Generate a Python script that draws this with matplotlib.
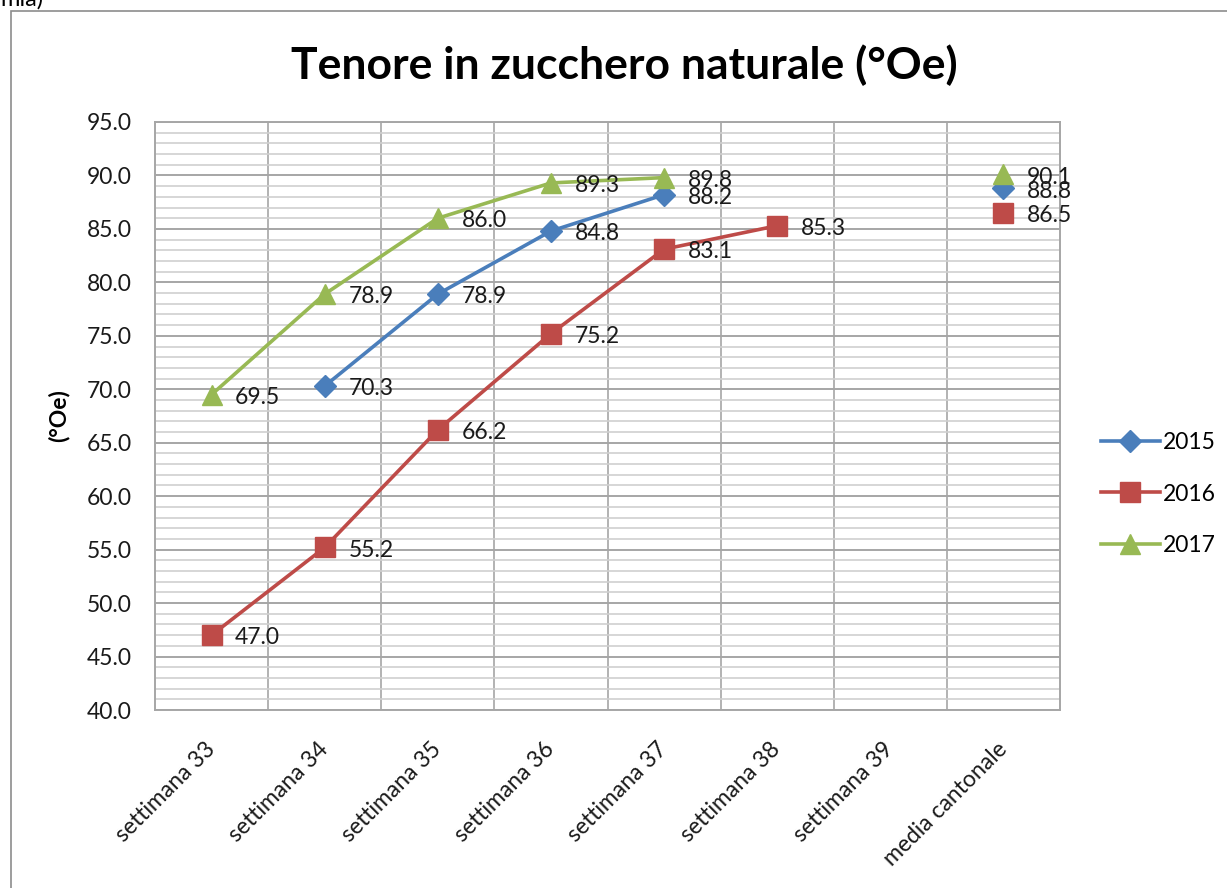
import numpy as np
import matplotlib.pyplot as plt
from matplotlib.patches import Rectangle

plt.rcParams['font.family'] = ['Lato', 'DejaVu Sans']

categories = ['settimana 33', 'settimana 34', 'settimana 35', 'settimana 36',
              'settimana 37', 'settimana 38', 'settimana 39', 'media cantonale']
years = ['2015', '2016', '2017']
nan = np.nan
values_2015 = [nan, 70.3, 78.9, 84.8, 88.2, nan, nan, 88.8]
values_2016 = [47.0, 55.2, 66.2, 75.2, 83.1, 85.3, nan, 86.5]
values_2017 = [69.5, 78.9, 86.0, 89.3, 89.8, nan, nan, 90.1]

series = [values_2015, values_2016, values_2017]
colors = ['#4A7EBB', '#BE4B48', '#98B954']
markers = ['D', 's', '^']
msizes = [11, 14, 15]

fs = 16.5

fig = plt.figure(figsize=(12.27, 8.88), dpi=100)
ax = fig.add_axes([155 / 1227, 1 - 710 / 888, (1060 - 155) / 1227, (710 - 122) / 888])

x = np.arange(len(categories))
for vals, c, m, ms, yr in zip(series, colors, markers, msizes, years):
    ax.plot(x, vals, color=c, lw=2.6, marker=m, markersize=ms, label=yr, zorder=3)
    for xi, v in zip(x, vals):
        if not np.isnan(v):
            ax.annotate(f'{v:.1f}', (xi, v), xytext=(17, -2), textcoords='offset points',
                        ha='left', va='center', fontsize=fs, color='#1a1a1a', zorder=4)

ax.set_xlim(-0.5, len(categories) - 0.5)
ax.set_ylim(40, 95)
ax.set_yticks(np.arange(40, 96, 5))
ax.set_yticklabels([f'{v:.1f}' for v in np.arange(40, 96, 5)])
ax.set_yticks(np.arange(40, 96, 1), minor=True)
ax.set_xticks(x)
ax.set_xticks(np.arange(0.5, len(categories) - 1, 1), minor=True)
ax.set_xticklabels(categories, rotation=45, ha='right', va='center',
                   rotation_mode='anchor')
ax.tick_params(axis='both', which='both', length=0, labelsize=fs, colors='#1a1a1a')
ax.tick_params(axis='x', pad=26)
ax.tick_params(axis='y', pad=17)

ax.grid(which='major', axis='y', color='#a6a6a6', lw=1.4)
ax.grid(which='minor', axis='y', color='#cfcfcf', lw=1.2)
ax.grid(which='minor', axis='x', color='#a6a6a6', lw=1.2)
ax.set_axisbelow(True)
for s in ax.spines.values():
    s.set_color('#a6a6a6')
    s.set_linewidth(1.4)

ax.set_ylabel('(°Oe)', fontsize=fs, fontweight='bold', labelpad=12)

fig.text(0.509, 1 - 65 / 888, 'Tenore in zucchero naturale (°Oe)', ha='center', va='center',
         fontsize=32, fontweight='bold')
fig.text(0.0, 1 - 6 / 888, 'mia)', ha='left', va='baseline', fontsize=17)

fig.legend(loc='center left', bbox_to_anchor=(1080 / 1227, 1 - 494 / 888), frameon=False,
           fontsize=fs, handlelength=2.6, labelspacing=1.35, handletextpad=0.1)

fig.patches.append(Rectangle((11 / 1227, -0.1), 1.2, 1 - 11 / 888 + 0.1, transform=fig.transFigure,
                             fill=False, edgecolor='#8c8c8c', lw=1.2))

fig.savefig('out.png', dpi=100)
